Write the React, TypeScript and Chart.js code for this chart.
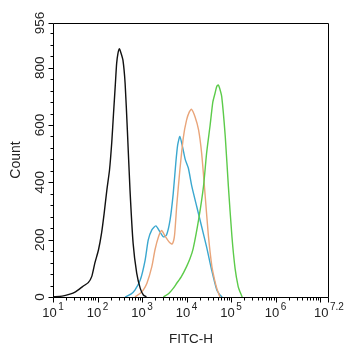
import React, { useEffect, useRef } from "react";
import { Chart, registerables } from "chart.js";

Chart.register(...registerables);

// FITC-H values (linear units, log axis) and counts
const blackX = [10, 16, 24, 32, 41, 50, 62, 74, 87, 105, 123, 141, 162, 186, 209, 229, 251, 269, 288, 309, 331, 372, 417, 468, 537, 631, 759, 912, 1072, 1259];
const blackY = [1, 3, 10, 18, 30, 40, 50, 71, 118, 164, 222, 292, 373, 443, 540, 641, 740, 815, 850, 866, 855, 827, 745, 583, 373, 187, 83, 30, 7, 1];

const blueX = [417, 562, 692, 912, 1175, 1380, 1660, 2042, 2512, 3020, 3548, 4266, 5012, 5754, 6310, 7079, 8128, 9333, 10965, 13183, 16982, 21878, 28184, 37154, 47863, 56234, 63096];
const blueY = [0, 10, 24, 59, 129, 199, 234, 248, 228, 210, 216, 269, 360, 470, 530, 560, 524, 480, 450, 385, 315, 245, 175, 90, 24, 7, 0];

const orangeX = [692, 912, 1072, 1288, 1660, 1950, 2344, 2754, 3311, 4169, 4786, 5370, 6026, 7079, 8511, 10000, 11482, 12882, 15488, 18621, 21878, 26303, 30903, 37154, 42658, 47863, 56234];
const orangeY = [0, 13, 25, 48, 106, 164, 210, 232, 212, 190, 185, 215, 320, 443, 559, 617, 645, 655, 629, 583, 500, 350, 215, 106, 60, 30, 0];

const greenX = [3020, 3981, 5012, 6026, 7586, 10000, 12023, 14125, 18621, 23988, 28184, 33884, 38905, 43652, 47863, 51286, 54954, 61660, 74131, 87096, 104713, 123027, 144544, 158489, 177828];
const greenY = [0, 12, 30, 48, 70, 106, 135, 170, 269, 385, 501, 600, 680, 711, 735, 740, 730, 699, 559, 385, 210, 100, 36, 18, 0];

const xExponents = ["1", "2", "3", "4", "5", "6", "7.2"];
const yTickValues = [0, 200, 400, 600, 800, 956];
const yMax = 956;
const xMin = 10;
const xMaxExp = 7.2;

const FONT = "'Liberation Sans', Arial, sans-serif";

const pts = (xs: number[], ys: number[]) => xs.map((x, i) => ({ x, y: ys[i] }));

const axesPlugin = {
  id: "flowAxes",
  afterDraw(chart: any) {
    const { ctx, chartArea: a, scales } = chart;
    const xs = scales.x;
    const ys = scales.y;
    const L = Math.round(a.left) + 0.5;
    const R = Math.round(a.right) - 0.5;
    const T = Math.round(a.top) + 0.5;
    const B = Math.round(a.bottom) + 0.5;
    ctx.save();
    ctx.strokeStyle = "#000";
    ctx.lineWidth = 1;
    ctx.beginPath();
    ctx.rect(L, T, R - L, B - T);
    ctx.stroke();

    // y ticks
    ctx.beginPath();
    for (let v = 0; v <= yMax; v += 40) {
      const y = Math.round(ys.getPixelForValue(v)) + 0.5;
      const len = v % 200 === 0 ? 5 : 3;
      ctx.moveTo(L, y);
      ctx.lineTo(L - len, y);
    }
    ctx.moveTo(L, T);
    ctx.lineTo(L - 5, T);
    // x ticks
    const xMax = Math.pow(10, xMaxExp);
    for (let d = 1; d <= 7; d++) {
      for (let m = 1; m <= 9; m++) {
        const v = m * Math.pow(10, d);
        if (v > xMax) break;
        const x = Math.round(xs.getPixelForValue(v)) + 0.5;
        const len = m === 1 ? 5 : 3;
        ctx.moveTo(x, B);
        ctx.lineTo(x, B + len);
      }
    }
    ctx.moveTo(R, B);
    ctx.lineTo(R, B + 5);
    ctx.stroke();

    // y labels (rotated)
    ctx.fillStyle = "#222";
    ctx.font = `13.5px ${FONT}`;
    ctx.textAlign = "center";
    ctx.textBaseline = "middle";
    yTickValues.forEach((v) => {
      const y = ys.getPixelForValue(v);
      ctx.save();
      ctx.translate(a.left - 13, y);
      ctx.rotate(-Math.PI / 2);
      ctx.fillText(String(v), 0, 0);
      ctx.restore();
    });

    // x labels: 10 with superscript exponent
    ctx.textAlign = "left";
    ctx.textBaseline = "alphabetic";
    xExponents.forEach((e) => {
      const x = xs.getPixelForValue(Math.pow(10, parseFloat(e)));
      ctx.font = `13px ${FONT}`;
      const w10 = ctx.measureText("10").width;
      ctx.font = `10px ${FONT}`;
      const ws = ctx.measureText(e).width;
      const gap = 1.5;
      const start = x - (w10 + gap + ws) / 2;
      ctx.font = `13px ${FONT}`;
      ctx.fillText("10", start, 317);
      ctx.font = `10px ${FONT}`;
      ctx.fillText(e, start + w10 + gap, 310);
    });
    ctx.restore();
  },
};

export default function App() {
  const ref = useRef<HTMLCanvasElement>(null);
  useEffect(() => {
    if (!ref.current) return;
    const ds = (label: string, xs: number[], ys: number[], color: string) => ({
      label,
      data: pts(xs, ys),
      borderColor: color,
      backgroundColor: color,
      borderWidth: 1.4,
      pointRadius: 0,
      tension: 0.2,
      fill: false,
    });
    const chart = new Chart(ref.current, {
      type: "line",
      data: {
        datasets: [
          ds("Control", blackX, blackY, "#111111"),
          ds("Green", greenX, greenY, "#5ccb4a"),
          ds("Orange", orangeX, orangeY, "#e9a57a"),
          ds("Blue", blueX, blueY, "#3aa7cf"),
        ],
      },
      options: {
        animation: false,
        responsive: false,
        layout: { padding: { left: 0, top: 23, right: 17, bottom: 0 } },
        plugins: { legend: { display: false }, tooltip: { enabled: false } },
        scales: {
          x: {
            type: "logarithmic",
            min: xMin,
            max: Math.pow(10, xMaxExp),
            grid: { display: false },
            border: { display: false },
            ticks: { display: false },
            title: { display: true, text: "FITC-H", color: "#222", font: { family: FONT, size: 13.5 }, padding: { top: 0, bottom: 3 } },
            afterFit: (s: any) => { s.height = 53; },
          },
          y: {
            type: "linear",
            min: 0,
            max: yMax,
            grid: { display: false },
            border: { display: false },
            ticks: { display: false },
            title: { display: true, text: "Count", color: "#222", font: { family: FONT, size: 14 }, padding: { top: 8, bottom: 0 } },
            afterFit: (s: any) => { s.width = 53; },
          },
        },
      },
      plugins: [axesPlugin],
    } as any);
    return () => chart.destroy();
  }, []);
  return (
    <div style={{ position: "absolute", left: 0, top: 0, width: 346, height: 350, background: "#fff" }}>
      <canvas ref={ref} width={346} height={350} style={{ display: "block" }} />
    </div>
  );
}
